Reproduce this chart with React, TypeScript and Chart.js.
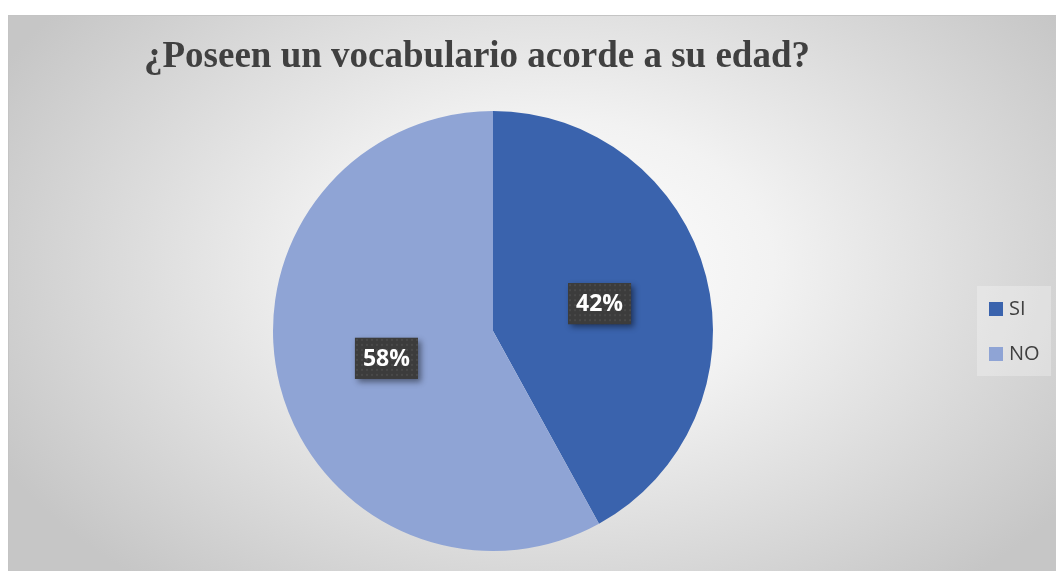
import React, { useEffect, useRef } from "react";
import { Chart, registerables } from "chart.js";

Chart.register(...registerables);

const title = "¿Poseen un vocabulario acorde a su edad?";
const categories = ["SI", "NO"];
const values = [42, 58];
const colors = ["#3A63AD", "#8FA4D5"];

const W = 1048;
const H = 556;

function makePattern(ctx: CanvasRenderingContext2D) {
  const c = document.createElement("canvas");
  c.width = 5;
  c.height = 5;
  const p = c.getContext("2d")!;
  p.fillStyle = "#3c3c3c";
  p.fillRect(0, 0, 5, 5);
  p.fillStyle = "#494949";
  p.fillRect(1, 1, 2, 2);
  return ctx.createPattern(c, "repeat")!;
}

const overlayPlugin = {
  id: "overlay",
  afterDraw(chart: any) {
    const ctx: CanvasRenderingContext2D = chart.ctx;
    const meta = chart.getDatasetMeta(0);
    const data = chart.data.datasets[0].data as number[];
    const total = data.reduce((a, b) => a + b, 0);
    const pattern = makePattern(ctx);
    // data labels
    meta.data.forEach((arc: any, i: number) => {
      const pos = arc.tooltipPosition();
      const txt = Math.round((data[i] / total) * 100) + "%";
      const bw = 63;
      const bh = 41;
      const x = pos.x - bw / 2;
      const y = pos.y - bh / 2;
      ctx.save();
      ctx.shadowColor = "rgba(0,0,0,0.45)";
      ctx.shadowBlur = 6;
      ctx.shadowOffsetX = 3;
      ctx.shadowOffsetY = 3;
      ctx.fillStyle = "#3c3c3c";
      ctx.fillRect(x, y, bw, bh);
      ctx.restore();
      ctx.save();
      ctx.fillStyle = pattern;
      ctx.translate(x, y);
      ctx.fillRect(0, 0, bw, bh);
      ctx.restore();
      ctx.save();
      ctx.fillStyle = "#ffffff";
      ctx.font = "bold 23px 'Open Sans'";
      ctx.textAlign = "center";
      ctx.textBaseline = "middle";
      ctx.fillText(txt, pos.x, pos.y + 1);
      ctx.restore();
    });
    // title
    ctx.save();
    ctx.fillStyle = "#404040";
    ctx.font = "bold 37px 'Liberation Serif'";
    ctx.textAlign = "center";
    ctx.textBaseline = "alphabetic";
    ctx.fillText(title, 469, 52);
    ctx.restore();
    // legend
    ctx.save();
    ctx.fillStyle = "rgba(255,255,255,0.28)";
    ctx.fillRect(969, 271, 74, 90);
    const labels = chart.data.labels as string[];
    const bg = chart.data.datasets[0].backgroundColor as string[];
    labels.forEach((lab, i) => {
      const sy = 287 + i * 45;
      ctx.fillStyle = bg[i];
      ctx.fillRect(981, sy, 14, 14);
      ctx.fillStyle = "#404040";
      ctx.font = "20px 'Open Sans'";
      ctx.textAlign = "left";
      ctx.textBaseline = "middle";
      ctx.fillText(lab, 1001, sy + 7.5);
    });
    ctx.restore();
  },
};

export default function App() {
  const ref = useRef<HTMLCanvasElement>(null);
  useEffect(() => {
    if (!ref.current) return;
    const chart = new Chart(ref.current, {
      type: "pie",
      data: {
        labels: categories,
        datasets: [
          {
            data: values,
            backgroundColor: colors,
            borderWidth: 0,
            hoverOffset: 0,
            offset: 0,
          },
        ],
      },
      options: {
        responsive: false,
        animation: false,
        events: [],
        layout: { padding: { top: 96, bottom: 20, left: 265, right: 343 } },
        plugins: {
          legend: { display: false },
          title: { display: false },
          tooltip: { enabled: false },
        },
      },
      plugins: [overlayPlugin],
    });
    return () => chart.destroy();
  }, []);
  return (
    <>
      <div
        style={{
          position: "absolute",
          left: 8,
          top: 15,
          width: W,
          height: H,
          boxSizing: "border-box",
          borderTop: "1px solid #c4c4c4",
          borderLeft: "1px solid #c4c4c4",
          background:
            "radial-gradient(ellipse 60% 75% at 52% 45%, #ffffff 0%, #f2f2f2 35%, #c6c6c6 100%)",
        }}
      />
      <canvas
        ref={ref}
        width={W}
        height={H}
        style={{ position: "absolute", left: 8, top: 15, width: W, height: H }}
      />
    </>
  );
}
